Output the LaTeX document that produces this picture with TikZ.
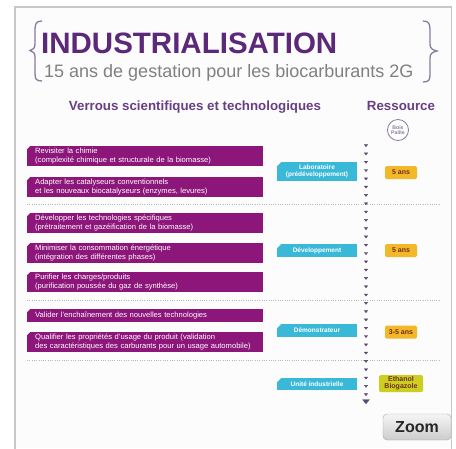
\documentclass[tikz,border=0pt]{standalone}
\usepackage{fontspec}
\setmainfont{Liberation Sans}
\usetikzlibrary{arrows.meta,decorations.markings}
\definecolor{fond}{RGB}{252,252,252}
\definecolor{cverrou}{RGB}{140,22,122}
\definecolor{cetape}{RGB}{58,184,216}
\definecolor{cduree}{RGB}{243,184,42}
\definecolor{cproduit}{RGB}{204,206,32}
\definecolor{ctitre}{RGB}{92,40,122}
\definecolor{crubrique}{RGB}{104,62,134}
\definecolor{caccolade}{RGB}{138,124,160}
\definecolor{cfleche}{RGB}{90,72,120}
\definecolor{ctexte}{RGB}{112,48,22}

\begin{document}
\begin{tikzpicture}[x=1pt,y=-1pt,
  coupe/.style={path picture={\fill[fond] (path picture bounding box.north west) -- ++(#1,0) -- ++(-#1,-#1) -- cycle;}},
  verrou/.style={fill=cverrou,text=white,anchor=west,text width=220pt,align=left,inner xsep=8pt,inner ysep=2pt,
    minimum height=20pt,font=\fontsize{7.6}{8.6}\selectfont,coupe=3pt},
  etape/.style={fill=cetape,text=white,minimum width=80pt,align=center,inner sep=1pt,
    font=\bfseries\fontsize{6.5}{7.2}\selectfont,coupe=4pt},
  duree/.style={fill=cduree,text=ctexte,rounded corners=1.5pt,minimum width=32pt,minimum height=13pt,
    align=center,inner sep=1pt,font=\bfseries\fontsize{7}{7.3}\selectfont},
  accolade/.style={draw=caccolade,line width=1.3pt},
  separation/.style={draw=black!28,line width=0.8pt,dash pattern=on 1pt off 1.3pt},
  bouton/.style={draw=black!35,rounded corners=4pt,top color=black!4,bottom color=black!20,
    minimum width=68pt,minimum height=26pt,text=black!85,font=\bfseries\fontsize{16}{16}\selectfont}]
\useasboundingbox (0,0) rectangle (456,448);
\fill[white] (0,0) rectangle (456,448);
\fill[fond] (15,7) rectangle (451.5,448);
\draw[black!22,line width=1.2pt] (15,449) -- (15,7) -- (451.5,7) -- (451.5,449);

\draw[accolade] (42,21) .. controls (36,21) and (35,24) .. (35,30) -- (35,44)
  .. controls (35,48) and (33,50) .. (30,50.5) .. controls (33,51) and (35,53) .. (35,57)
  -- (35,73) .. controls (35,79) and (36,81) .. (42,81);
\draw[accolade] (423,21) .. controls (429,21) and (430,24) .. (430,30) -- (430,44)
  .. controls (430,48) and (432,50) .. (437,51) .. controls (432,52) and (430,54) .. (430,58)
  -- (430,74) .. controls (430,80) and (429,82) .. (423,82);

\node[anchor=base west,inner sep=0pt,text=ctitre,font=\bfseries\fontsize{29.5}{30}\selectfont] (titre) at (41,53) {INDUSTRIALISATION};
\node[anchor=base west,inner sep=0pt,text=black!50,font=\fontsize{18}{19}\selectfont] (soustitre) at (44,77) {15 ans de gestation pour les biocarburants 2G};

\node[anchor=base,inner sep=0pt,text=crubrique,font=\bfseries\fontsize{13.3}{14}\selectfont] (verrous) at (195,110) {Verrous scientifiques et technologiques};
\node[anchor=base,inner sep=0pt,text=crubrique,font=\bfseries\fontsize{13.3}{14}\selectfont] (ressource) at (401,110) {Ressource};
\node[circle,draw=caccolade,fill=white,line width=0.8pt,minimum size=21pt,inner sep=0pt,align=center,
  text=caccolade,font=\bfseries\fontsize{5.2}{5.6}\selectfont] (bois) at (398,130) {Bois\\Paille};

\node[verrou] (v1) at (27,156) {Revisiter la chimie\\(complexité chimique et structurale de la biomasse)};
\node[verrou] (v2) at (27,187) {Adapter les catalyseurs conventionnels\\et les nouveaux biocatalyseurs (enzymes, levures)};
\node[verrou] (v3) at (27,223) {Développer les technologies spécifiques\\(prétraitement et gazéification de la biomasse)};
\node[verrou] (v4) at (27,253) {Minimiser la consommation énergétique\\(intégration des différentes phases)};
\node[verrou] (v5) at (27,282) {Purifier les charges/produits\\(purification poussée du gaz de synthèse)};
\node[verrou,minimum height=13pt] (v6) at (27,315.5) {Valider l'enchaînement des nouvelles technologies};
\node[verrou] (v7) at (27,342) {Qualifier les propriétés d'usage du produit (validation\\des caractéristiques des carburants pour un usage automobile)};

\node[etape,minimum height=19pt] (e1) at (317,171.5) {Laboratoire\\(prédéveloppement)};
\node[etape,minimum height=13pt] (e2) at (317,250.5) {Développement};
\node[etape,minimum height=13pt] (e3) at (317,330.5) {Démonstrateur};
\node[etape,minimum height=12pt] (e4) at (317,384) {Unité industrielle};

\node[duree] (d1) at (401,172.5) {5 ans};
\node[duree] (d2) at (401,250.5) {5 ans};
\node[duree] (d3) at (401,332) {3-5 ans};
\node[duree,fill=cproduit,minimum width=44pt,minimum height=17pt] (d4) at (401,383.5) {Ethanol\\Biogazole};

\draw[separation] (27,204) -- (440,204);
\draw[separation] (27,300) -- (440,300);
\draw[separation] (27,360) -- (440,360);

\coordinate (haut) at (366,147);
\coordinate (bas) at (366,404);
\path[color=cfleche,postaction={decorate},decoration={markings,
  mark=between positions 0 and 0.97 step 8.3pt with {\arrow{Triangle[width=4pt,length=2.6pt]}},
  mark=at position 1 with {\arrow{Triangle[width=7.5pt,length=4.5pt]}}}] (haut) -- (bas);

\node[bouton] (zoom) at (417,427) {Zoom};
\end{tikzpicture}
\end{document}
